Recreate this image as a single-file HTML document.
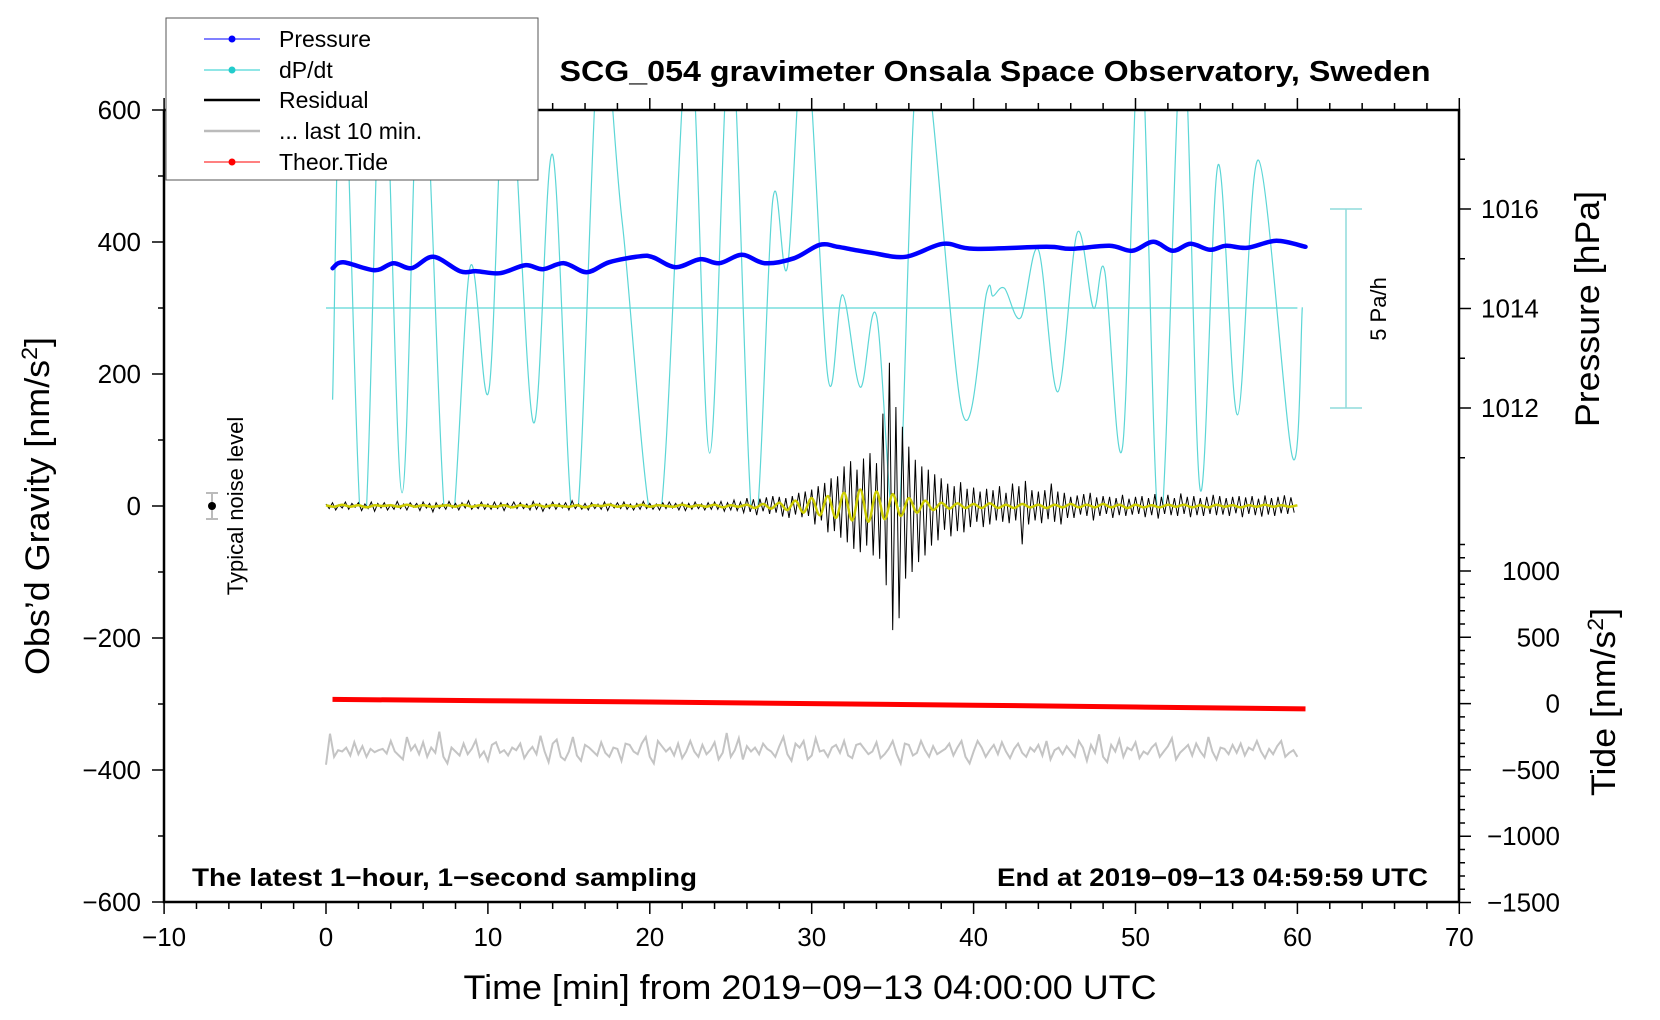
<!DOCTYPE html>
<html><head><meta charset="utf-8"><style>
html,body{margin:0;padding:0;background:#fff}
svg{display:block;font-family:"Liberation Sans",sans-serif}
</style></head><body>
<svg id="chart" width="1660" height="1020" viewBox="0 0 1660 1020" xmlns="http://www.w3.org/2000/svg">
<defs><clipPath id="plotclip"><rect x="164" y="110" width="1295" height="397"/></clipPath></defs>
<g id="marks"></g>
<g id="axes"></g>
<g id="labels">
<text x="995" y="81" font-size="29" font-weight="bold" text-anchor="middle" textLength="871" lengthAdjust="spacingAndGlyphs">SCG_054 gravimeter Onsala Space Observatory, Sweden</text>
<text x="810" y="999" font-size="34" text-anchor="middle" textLength="693" lengthAdjust="spacingAndGlyphs">Time [min] from 2019−09−13 04:00:00 UTC</text>
<text transform="translate(49,506) rotate(-90)" font-size="34" text-anchor="middle" textLength="338" lengthAdjust="spacingAndGlyphs">Obs’d Gravity [nm/s<tspan dy="-12" font-size="22">2</tspan><tspan dy="12">]</tspan></text>
<text transform="translate(1599,309) rotate(-90)" font-size="34" text-anchor="middle" textLength="236" lengthAdjust="spacingAndGlyphs">Pressure [hPa]</text>
<text transform="translate(1615,702) rotate(-90)" font-size="34" text-anchor="middle" textLength="188" lengthAdjust="spacingAndGlyphs">Tide [nm/s<tspan dy="-12" font-size="22">2</tspan><tspan dy="12">]</tspan></text>
<text x="192" y="886" font-size="25" font-weight="bold" textLength="505" lengthAdjust="spacingAndGlyphs">The latest 1−hour, 1−second sampling</text>
<text x="1428" y="886" font-size="25" font-weight="bold" text-anchor="end" textLength="431" lengthAdjust="spacingAndGlyphs">End at 2019−09−13 04:59:59 UTC</text>
<g>
<line x1="212" y1="493" x2="212" y2="519" stroke="#bbb" stroke-width="2"/>
<line x1="206" y1="493" x2="218" y2="493" stroke="#bbb" stroke-width="2"/>
<line x1="206" y1="519" x2="218" y2="519" stroke="#bbb" stroke-width="2"/>
<circle cx="212" cy="506" r="4" fill="#000"/>
<text transform="translate(243,506) rotate(-90)" font-size="22" text-anchor="middle">Typical noise level</text>
</g>
<g stroke="#8fdcdc" stroke-width="1.5">
<line x1="1346" y1="209" x2="1346" y2="408"/>
<line x1="1330" y1="209" x2="1362" y2="209"/>
<line x1="1330" y1="408" x2="1362" y2="408"/>
</g>
<text transform="translate(1386,309) rotate(-90)" font-size="22" text-anchor="middle">5 Pa/h</text>
</g>
<g id="legend">
<rect x="166" y="18" width="372" height="162" fill="#fff" stroke="#555" stroke-width="1"/>
<g><line x1="204" y1="39" x2="260" y2="39" stroke="#00f" stroke-width="1"/><circle cx="232" cy="39" r="3.5" fill="#00f"/><text x="279" y="47" font-size="23">Pressure</text></g>
<g><line x1="204" y1="70" x2="260" y2="70" stroke="#2cc" stroke-width="1"/><circle cx="232" cy="70" r="3.5" fill="#2cc"/><text x="279" y="78" font-size="23">dP/dt</text></g>
<g><line x1="204" y1="100" x2="260" y2="100" stroke="#000" stroke-width="2.5"/><text x="279" y="108" font-size="23">Residual</text></g>
<g><line x1="204" y1="131" x2="260" y2="131" stroke="#bbb" stroke-width="2.5"/><text x="279" y="139" font-size="23">... last 10 min.</text></g>
<g><line x1="204" y1="162" x2="260" y2="162" stroke="#f00" stroke-width="1"/><circle cx="232" cy="162" r="3.5" fill="#f00"/><text x="279" y="170" font-size="23">Theor.Tide</text></g>
</g>
</svg>
<script>
// ---- data ----
const dpdtTimes = [0.41,1.05,2.3,3.5,4.7,5.9,7.5,8.9,10.07,11.2,12.8,14.0,15.4,16.9,18.3,20.5,22.4,23.7,25.0,26.4,27.6,28.5,29.6,31.0,31.9,33.0,34.0,35.3,36.7,39.3,40.8,41.2,41.9,42.9,44.0,45.2,46.4,47.4,48.1,49.2,50.3,51.5,52.9,54.0,55.1,56.3,57.6,59.7,60.3];
const dpdtValues = [161,720,-60,720,20,720,-60,362,176,700,127,532,-40,720,429,-40,720,80,720,-40,464,362,720,195,320,180,288,-40,700,141,323,318,330,285,388,173,414,300,356,89,720,-40,720,24,517,138,524,74,301];
const pressTimes = [0.41,1.07,3.0,4.16,5.29,6.63,8.28,9.3,10.75,12.3,13.4,14.7,16.1,17.5,19.4,20.2,21.6,23.1,24.3,25.7,27.1,28.9,30.5,31.6,32.6,33.7,35.8,38.1,40.0,44.5,46.0,48.4,49.8,51.1,52.3,53.4,54.6,55.6,56.9,58.7,60.5];
const pressValues = [1014.81,1014.93,1014.77,1014.91,1014.81,1015.04,1014.75,1014.75,1014.71,1014.87,1014.79,1014.91,1014.73,1014.93,1015.05,1015.03,1014.83,1014.99,1014.91,1015.08,1014.91,1015.01,1015.28,1015.24,1015.18,1015.12,1015.04,1015.30,1015.20,1015.24,1015.20,1015.26,1015.16,1015.34,1015.16,1015.30,1015.18,1015.26,1015.22,1015.36,1015.24];
const tideTimes = [0.4,10,20,30,40,50,60.5];
const tideValues = [32,22,12,0,-12,-26,-40];
const residualValues = [
3,-4,5,-6,2,-3,6,-5,4,-2, 5,-7,3,-4,6,-8,4,-3,5,-6, 2,-5,7,-4,3,-6,5,-2,4,-7, 6,-3,4,-9,5,-4,3,-5,7,-3,
4,-6,5,-3,8,-5,2,-4,6,-5, 3,-5,6,-4,5,-7,4,-3,6,-4, 5,-4,3,-6,7,-5,4,-8,3,-4, 6,-5,4,-3,5,-6,8,-4,3,-5,
4,-6,5,-4,3,-5,6,-7,4,-3, 5,-4,6,-5,3,-6,4,-5,7,-4, 4,-5,3,-6,5,-4,6,-3,4,-6, 5,-7,4,-5,6,-4,3,-6,5,-5,
6,-5,7,-8,5,-6,9,-7,6,-10, 12,-9,10,-14,11,-8,13,-12,15,-10, 14,-16,12,-18,15,-13,20,-17,22,-15, 25,-28,30,-22,35,-40,42,-38,45,-48,
60,-55,68,-65,55,-70,72,-60,80,-75, 65,-80,140,-120,217,-188,150,-170,120,-110, 90,-100,70,-85,60,-75,55,-60,48,-52, 42,-36,34,-46,30,-38,36,-40,26,-32,
28,-24,22,-32,26,-28,24,-22,30,-24, 20,-26,34,-22,30,-58,38,-28,24,-22, 22,-26,24,-20,34,-24,22,-28,20,-18, 14,-18,16,-13,18,-15,20,-22,13,-15,
15,-12,14,-18,12,-14,17,-15,11,-13, 14,-12,15,-17,12,-14,18,-19,14,-12, 17,-14,12,-15,19,-12,14,-17,15,-14, 12,-15,14,-12,17,-14,15,-13,12,-15,
14,-11,15,-17,13,-12,15,-14,11,-16, 16,-13,12,-15,14,-11,16,-12,13,-10];
const smoothValues = [
1,-1,2,-1,1,-2,1,0,1,-1, 2,-1,1,-1,0,1,-1,2,-1,1, 0,-1,1,-2,1,-1,2,-1,1,0, -1,1,-2,1,0,2,-1,1,-1,2,
-1,1,0,-1,2,-1,1,-1,2,-2, 1,-1,2,-3,3,-4,5,-6,8,-10, 12,-14,15,-18,20,-22,25,-24,22,-20, 18,-15,12,-10,8,-6,5,-4,4,-3,
3,-3,4,-3,2,-3,3,-2,2,-3, 2,-2,3,-2,2,-2,3,-2,2,-3, 2,-2,1,-2,2,-1,2,-2,1,-2, 2,-1,1,-2,1,-1,2,-1,1,-1, 1];
const greyValues = [
-392,-345,-380,-370,-372,-366,-378,-358,-376,-364,-380,-368,-373,-370,-368,-375,-356,-372,-378,-384,
-350,-370,-362,-376,-358,-380,-366,-374,-342,-380,-390,-366,-372,-378,-360,-376,-368,-355,-380,-372,
-386,-362,-358,-374,-370,-378,-366,-370,-360,-382,-372,-365,-376,-348,-372,-388,-360,-354,-380,-385,
-372,-350,-378,-386,-362,-366,-372,-378,-358,-374,-380,-366,-368,-386,-360,-362,-372,-376,-360,-350,
-380,-390,-356,-364,-372,-366,-378,-360,-382,-372,-356,-372,-380,-362,-376,-370,-358,-384,-374,-344,
-380,-370,-352,-384,-364,-372,-366,-376,-360,-368,-372,-380,-364,-350,-376,-386,-360,-366,-356,-384,
-378,-352,-372,-370,-380,-366,-362,-374,-356,-378,-382,-362,-360,-368,-376,-372,-358,-382,-376,-368,
-356,-376,-390,-360,-362,-378,-374,-356,-370,-380,-364,-376,-372,-368,-360,-378,-366,-356,-380,-390,
-372,-356,-366,-380,-370,-362,-376,-358,-372,-382,-368,-360,-374,-380,-366,-372,-362,-378,-356,-384,
-370,-366,-376,-364,-372,-380,-356,-366,-386,-362,-374,-346,-380,-388,-362,-372,-354,-380,-366,-370,
-358,-382,-372,-376,-366,-360,-380,-372,-364,-352,-384,-374,-368,-362,-378,-360,-372,-380,-350,-372,
-384,-366,-368,-376,-362,-374,-360,-378,-366,-370,-356,-372,-382,-368,-376,-364,-356,-380,-374,-370,
-380];
const xTickLabels = ["−10","0","10","20","30","40","50","60","70"];
const xTickValues = [-10,0,10,20,30,40,50,60,70];
const gTickValues = [600,400,200,0,-200,-400,-600];
const gTickLabels = ["600","400","200","0","−200","−400","−600"];
const pTickValues = [1016,1014,1012];
const pTickLabels = ["1016","1014","1012"];
const tTickValues = [1000,500,0,-500,-1000,-1500];
const tTickLabels = ["1000","500","0","−500","−1000","−1500"];
const dpdtRefLevel = 300;

// ---- scales ----
const X = t => 326 + t * 16.19;
const YG = g => 506 - g * 0.66;
const YP = p => 209 + (1016 - p) * 49.75;
const YT = v => 703.6 - v * 0.1326;
const NS = "http://www.w3.org/2000/svg";
const marks = document.getElementById('marks');
const axes = document.getElementById('axes');
function mk(tag, parent, attrs){const e=document.createElementNS(NS,tag);for(const k in attrs)e.setAttribute(k,attrs[k]);parent.appendChild(e);return e;}
function smoothPath(pts){
  let d = 'M' + pts[0][0].toFixed(1) + ',' + pts[0][1].toFixed(1);
  for(let i=0;i<pts.length-1;i++){
    const p0=pts[Math.max(0,i-1)],p1=pts[i],p2=pts[i+1],p3=pts[Math.min(pts.length-1,i+2)];
    const c1x=p1[0]+(p2[0]-p0[0])/6,c1y=p1[1]+(p2[1]-p0[1])/6;
    const c2x=p2[0]-(p3[0]-p1[0])/6,c2y=p2[1]-(p3[1]-p1[1])/6;
    d+=' C'+c1x.toFixed(1)+','+c1y.toFixed(1)+' '+c2x.toFixed(1)+','+c2y.toFixed(1)+' '+p2[0].toFixed(1)+','+p2[1].toFixed(1);
  }
  return d;
}
function linePath(pts){return pts.map((p,i)=>(i?'L':'M')+p[0].toFixed(1)+','+p[1].toFixed(1)).join(' ');}

const ref = mk('line', marks, {x1:X(0),x2:X(60),y1:YG(dpdtRefLevel),y2:YG(dpdtRefLevel),stroke:'#5cd6d6','stroke-width':1.2});


const dp = mk('path', marks, {d:smoothPath(dpdtTimes.map((t,i)=>[X(t),YG(dpdtValues[i])])),fill:'none',stroke:'#5cd6d6','stroke-width':1.2,'clip-path':'url(#plotclip)'});


const gr = mk('path', marks, {d:linePath(greyValues.map((v,i)=>[X(i*0.25),YG(v)])),fill:'none',stroke:'#c4c4c4','stroke-width':2});


const rs = mk('path', marks, {d:linePath(residualValues.map((v,i)=>[X(i*0.2),YG(v)])),fill:'none',stroke:'#000','stroke-width':1});


const sm = mk('path', marks, {d:smoothPath(smoothValues.map((v,i)=>[X(i*0.5),YG(v)])),fill:'none',stroke:'#cccc00','stroke-width':2.5});


const pr = mk('path', marks, {d:smoothPath(pressTimes.map((t,i)=>[X(t),YP(pressValues[i])])),fill:'none',stroke:'#0000ff','stroke-width':4.5,'stroke-linecap':'round'});


const td = mk('path', marks, {d:linePath(tideTimes.map((t,i)=>[X(t),YT(tideValues[i])])),fill:'none',stroke:'#ff0000','stroke-width':5});



// ---- axes ----
const L=164,R=1459,T=110,B=902;
const frame = mk('path', axes, {d:`M${L},${T} L${L},${B} L${R},${B} L${R},${T} L${L},${T}`,fill:'none',stroke:'#000','stroke-width':2.5});


let td2='';
for(let t=-10;t<=70;t+=2){const x=X(t);const len=(t%10===0)?12:7;td2+=`M${x},${B} L${x},${B+len} M${x},${T} L${x},${T-len} `;}
for(let g=-600;g<=600;g+=100){const y=YG(g);const len=(g%200===0)?12:6;td2+=`M${L},${y} L${L-len},${y} `;}
for(let p=1011;p<=1017;p+=1){const y=YP(p);const len=(p%2===0)?12:6;td2+=`M${R},${y} L${R+len},${y} `;}
for(let v=-1500;v<=1300;v+=100){const y=YT(v);if(y<540)continue;const len=(v%500===0)?12:6;td2+=`M${R},${y} L${R+len},${y} `;}
const ticks = mk('path', axes, {d:td2,stroke:'#000','stroke-width':1.5,fill:'none'});


xTickValues.forEach((v,i)=>{const e=mk('text',axes,{x:X(v),y:946,'font-size':26,'text-anchor':'middle'});e.textContent=xTickLabels[i];

});
gTickValues.forEach((v,i)=>{const e=mk('text',axes,{x:141,y:YG(v)+9,'font-size':26,'text-anchor':'end'});e.textContent=gTickLabels[i];

});
pTickValues.forEach((v,i)=>{const e=mk('text',axes,{x:1481,y:YP(v)+9,'font-size':26});e.textContent=pTickLabels[i];

});
tTickValues.forEach((v,i)=>{const e=mk('text',axes,{x:1560,y:YT(v)+9,'font-size':26,'text-anchor':'end'});e.textContent=tTickLabels[i];

});
</script>
</body></html>
